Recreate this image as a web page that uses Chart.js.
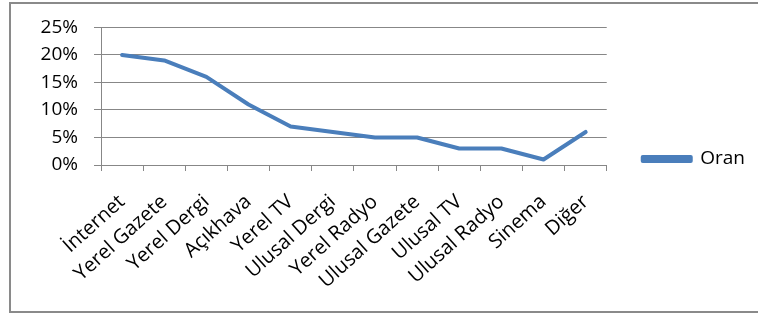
<!DOCTYPE html>
<html>
<head>
<meta charset="utf-8">
<script src="https://cdn.jsdelivr.net/npm/chart.js@4/dist/chart.umd.min.js"></script>
<style>
  html, body { margin: 0; padding: 0; background: #fff; }
  #wrap { position: relative; width: 758px; height: 313px; overflow: hidden; }
  #frame { position: absolute; left: 9px; top: 2px; width: 800px; height: 307px; border: 2px solid #8a8a8a; pointer-events: none; }
  canvas { position: absolute; left: 0; top: 0; }
</style>
</head>
<body>
<div id="wrap">
  <canvas id="c" width="758" height="313"></canvas>
  <div id="frame"></div>
</div>
<script>
const categories = ["İnternet", "Yerel Gazete", "Yerel Dergi", "Açıkhava", "Yerel TV", "Ulusal Dergi", "Yerel Radyo", "Ulusal Gazete", "Ulusal TV", "Ulusal Radyo", "Sinema", "Diğer"];
const seriesName = "Oran";
const oranValues = [20, 19, 16, 11, 7, 6, 5, 5, 3, 3, 1, 6];
const yTickValues = [0, 5, 10, 15, 20, 25];

const lineColor = '#4a7ebb';
const gridColor = '#878787';

Chart.defaults.font.family = "'Open Sans', sans-serif";
Chart.defaults.color = '#000';

new Chart(document.getElementById('c'), {
  type: 'line',
  data: {
    labels: categories,
    datasets: [{
      label: seriesName,
      data: oranValues,
      borderColor: lineColor,
      backgroundColor: lineColor,
      borderWidth: 4,
      pointRadius: 0,
      pointHoverRadius: 0,
      tension: 0,
      borderJoinStyle: 'round',
      borderCapStyle: 'round',
      fill: false
    }]
  },
  options: {
    responsive: false,
    animation: false,
    events: [],
    layout: { padding: { left: 0, top: 27, right: 3, bottom: 22 } },
    plugins: {
      tooltip: { enabled: false },
      legend: {
        position: 'right',
        align: 'center',
        labels: {
          boxWidth: 48,
          boxHeight: 4,
          padding: 36,
          font: { size: 19 },
          color: '#000'
        }
      }
    },
    scales: {
      x: {
        type: 'category',
        offset: true,
        grid: { offset: true, drawOnChartArea: false, drawTicks: true, tickLength: 6, color: gridColor, lineWidth: 1 },
        border: { display: true, color: gridColor, width: 1 },
        ticks: { autoSkip: false, minRotation: 42, maxRotation: 42, padding: 19, font: { size: 20 }, color: '#000' },
        afterFit: (s) => { s.height = 126; }
      },
      y: {
        min: 0,
        max: 25,
        afterBuildTicks: (s) => { s.ticks = yTickValues.map(v => ({ value: v })); },
        grid: { color: gridColor, lineWidth: 1, tickLength: 7, drawTicks: true },
        border: { display: true, color: gridColor, width: 1 },
        ticks: { padding: 16, font: { size: 19 }, color: '#000', callback: (v) => v + '%' },
        afterFit: (s) => { s.width = 101; }
      }
    }
  }
});
</script>
</body>
</html>
